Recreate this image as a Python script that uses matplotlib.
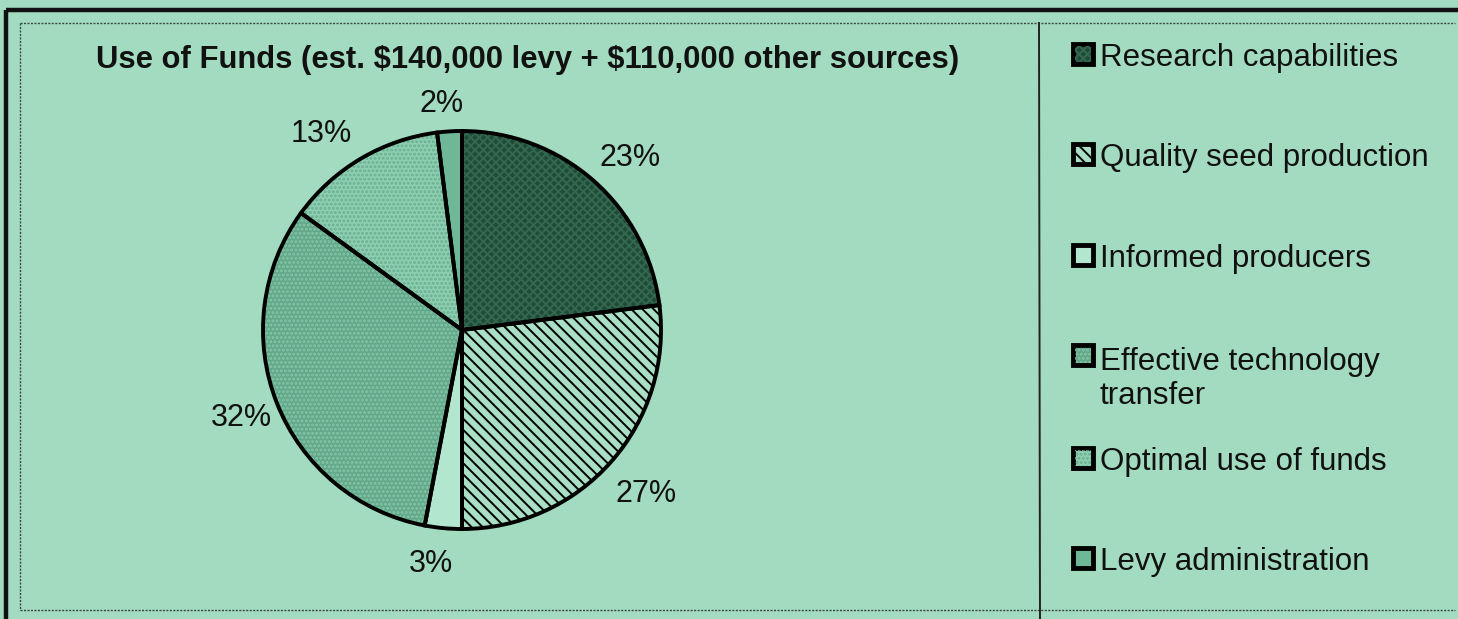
import matplotlib.pyplot as plt
from matplotlib.patches import Rectangle

plt.rcParams['font.family'] = ['Liberation Sans', 'DejaVu Sans']
plt.rcParams['hatch.linewidth'] = 1.4

title = r'Use of Funds (est. \$140,000 levy + \$110,000 other sources)'
categories = ['Research capabilities', 'Quality seed production', 'Informed producers',
              'Effective technology\ntransfer', 'Optimal use of funds', 'Levy administration']
shares = [23, 27, 3, 32, 13, 2]

bg = '#a2dbbf'
face_colors = ['#204b38', '#a8dfc5', '#b2e6ce', '#62a98a', '#8dceb0', '#6fb897']
hatches = ['xxxx', '\\\\\\', '', '....', '....', '']
hatch_colors = ['#336850', 'black', '#b2e6ce', '#86c6a8', '#6aae90', '#6fb897']
# small pixel nudges of the percent labels (x right, y down)
label_nudge = [(9, 9), (3, 5), (-8, -6), (3, -1), (-18, 11), (-5, 14)]

W, H = 1458, 619
fig = plt.figure(figsize=(W / 100, H / 100), dpi=100, facecolor=bg)

# full-figure layer in pixel coordinates for frames and legend
bgax = fig.add_axes([0, 0, 1, 1])
bgax.set_xlim(0, W)
bgax.set_ylim(H, 0)
bgax.axis('off')

bgax.plot([6, W], [10, 10], color='#111111', lw=3.2, solid_capstyle='butt')
bgax.plot([6, 6], [10, H], color='#111111', lw=3.2, solid_capstyle='butt')
bgax.plot([20, W - 3], [23, 23], color='#3a4a42', lw=1.0, ls=(0, (1.5, 1)))
bgax.plot([20, 20], [23, 610], color='#3a4a42', lw=1.0, ls=(0, (1.5, 1)))
bgax.plot([20, W - 3], [610, 610], color='#3a4a42', lw=1.0, ls=(0, (1.5, 1)))
bgax.plot([1039, 1040], [23, H], color='#222222', lw=1.4)

fig.text(528 / W, 1 - 68 / H, title, ha='center', va='baseline',
         fontsize=22.3, fontweight='bold', color='#111111')

# legend drawn by hand (uneven spacing as in the original)
legend_y = [54, 154, 255, 355, 458, 558]
line_px = 1.2 * 22.5 * 100 / 72
for lab, fc, ht, hc, yc in zip(categories, face_colors, hatches, hatch_colors, legend_y):
    sq = Rectangle((1073, yc - 10), 20, 20, facecolor=fc, edgecolor='black', lw=3.5)
    bgax.add_patch(sq)
    if ht:
        bgax.add_patch(Rectangle((1075, yc - 8), 16, 16, facecolor='none',
                                 edgecolor=hc, hatch=ht, lw=0))
    nl = lab.count('\n')
    bgax.text(1100, yc + 12 + nl * line_px, lab, ha='left', va='baseline',
              fontsize=22.5, color='#111111')

# pie
cx, cy, r = 462, 330, 199
ax = fig.add_axes([(cx - r) / W, (H - cy - r) / H, 2 * r / W, 2 * r / H])
ax.set_facecolor('none')

wedges, _, pcts = ax.pie(shares, startangle=90, counterclock=False,
                         autopct=lambda p: f'{p:.0f}%', pctdistance=1.21,
                         textprops=dict(fontsize=22, color='#111111'))
for w, fc, ht, hc in zip(wedges, face_colors, hatches, hatch_colors):
    w.set_facecolor(fc)
    w.set_edgecolor(hc)
    w.set_hatch(ht)
    w.set_linewidth(0)
for t, (dx, dy) in zip(pcts, label_nudge):
    x, y = t.get_position()
    t.set_position((x + dx / r, y - dy / r))

ax.pie(shares, startangle=90, counterclock=False,
       wedgeprops=dict(fill=False, edgecolor='black', linewidth=2.8))
ax.set_xlim(-1, 1)
ax.set_ylim(-1, 1)
ax.set_aspect('auto')

fig.savefig('out.png', dpi=100, facecolor=bg)
